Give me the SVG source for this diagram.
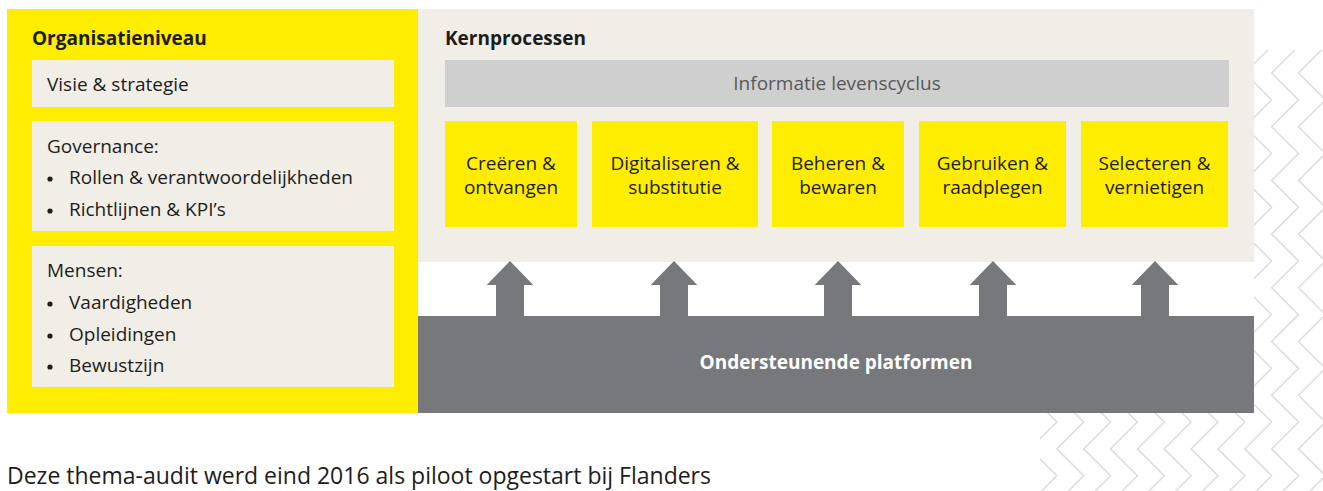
<svg xmlns="http://www.w3.org/2000/svg" xmlns:xlink="http://www.w3.org/1999/xlink" width="1323" height="491" viewBox="0 0 1323 491">
  <style>
    text { font-family: "Open Sans", "Liberation Sans", sans-serif; fill: #1d1d1b; }
    .title { font-size: 19px; font-weight: 700; }
    .body { font-size: 19px; }
    .mid { text-anchor: middle; }
    .yellow { fill: #ffed00; }
    .beige { fill: #f1eee7; }
    .bar { fill: #cfcfcf; }
    .dark { fill: #77787b; }
    .zig { fill: none; stroke: #dcdcdc; stroke-width: 1.5; }
    .dot { fill: #1d1d1b; }
  </style>
  <defs>
    <!-- one vertical zigzag, right vertices at x=0, left vertices at x=-26.85 -->
    <path id="zigzag" class="zig" d="M0,-7.55 l-26.85,26.85 l26.85,26.85 l-26.85,26.85 l26.85,26.85 l-26.85,26.85 l26.85,26.85 l-26.85,26.85 l26.85,26.85 l-26.85,26.85 l26.85,26.85 l-26.85,26.85 l26.85,26.85 l-26.85,26.85 l26.85,26.85 l-26.85,26.85 l26.85,26.85 l-26.85,26.85 l26.85,26.85 l-26.85,26.85 l26.85,26.85"/>
    <clipPath id="zigClip">
      <rect x="1040" y="50" width="283" height="441"/>
    </clipPath>
  </defs>

  <rect width="1323" height="491" fill="#ffffff"/>

  <!-- decorative chevron background -->
  <g id="background-pattern" clip-path="url(#zigClip)">
    <use xlink:href="#zigzag" x="1325.35"/>
    <use xlink:href="#zigzag" x="1298.5"/>
    <use xlink:href="#zigzag" x="1271.65"/>
    <use xlink:href="#zigzag" x="1244.8"/>
    <use xlink:href="#zigzag" x="1217.95"/>
    <use xlink:href="#zigzag" x="1191.1"/>
    <use xlink:href="#zigzag" x="1164.25"/>
    <use xlink:href="#zigzag" x="1137.4"/>
    <use xlink:href="#zigzag" x="1110.55"/>
    <use xlink:href="#zigzag" x="1083.7"/>
    <use xlink:href="#zigzag" x="1056.85"/>
    <use xlink:href="#zigzag" x="1030"/>
  </g>

  <!-- white backing of the diagram area -->
  <rect x="7" y="9" width="1247" height="404" fill="#ffffff"/>

  <!-- organisation level -->
  <g id="organisatieniveau">
    <rect class="yellow" x="7" y="9" width="411" height="404"/>
    <text class="title" x="32" y="44.5">Organisatieniveau</text>
  </g>
  <g id="visie">
    <rect class="beige" x="32" y="60" width="362" height="47"/>
    <text class="body" x="47" y="91">Visie &amp; strategie</text>
  </g>
  <g id="governance">
    <rect class="beige" x="32" y="121" width="362" height="110"/>
    <text class="body" x="47" y="153">Governance:</text>
    <circle class="dot" cx="50" cy="179" r="2.6"/>
    <text class="body" x="69" y="184">Rollen &amp; verantwoordelijkheden</text>
    <circle class="dot" cx="50" cy="211" r="2.6"/>
    <text class="body" x="69" y="216">Richtlijnen &amp; KPI’s</text>
  </g>
  <g id="mensen">
    <rect class="beige" x="32" y="246" width="362" height="141"/>
    <text class="body" x="47" y="277">Mensen:</text>
    <circle class="dot" cx="50" cy="304" r="2.6"/>
    <text class="body" x="69" y="309">Vaardigheden</text>
    <circle class="dot" cx="50" cy="336" r="2.6"/>
    <text class="body" x="69" y="341">Opleidingen</text>
    <circle class="dot" cx="50" cy="367" r="2.6"/>
    <text class="body" x="69" y="372">Bewustzijn</text>
  </g>

  <!-- core processes -->
  <g id="kernprocessen">
    <rect class="beige" x="418" y="9" width="836" height="253"/>
    <text class="title" x="445" y="44.5">Kernprocessen</text>
  </g>
  <g id="levenscyclus">
    <rect class="bar" x="445" y="60" width="784" height="47"/>
    <text class="body mid" x="837" y="90" style="fill:#58585a">Informatie levenscyclus</text>
  </g>
  <g id="creeren">
    <rect class="yellow" x="445" y="121" width="132" height="106"/>
    <text class="body mid" x="511" y="170">Creëren &amp;</text>
    <text class="body mid" x="511" y="194">ontvangen</text>
  </g>
  <g id="digitaliseren">
    <rect class="yellow" x="592" y="121" width="166" height="106"/>
    <text class="body mid" x="675" y="170">Digitaliseren &amp;</text>
    <text class="body mid" x="675" y="194">substitutie</text>
  </g>
  <g id="beheren">
    <rect class="yellow" x="772" y="121" width="132" height="106"/>
    <text class="body mid" x="838" y="170">Beheren &amp;</text>
    <text class="body mid" x="838" y="194">bewaren</text>
  </g>
  <g id="gebruiken">
    <rect class="yellow" x="919" y="121" width="147" height="106"/>
    <text class="body mid" x="992.5" y="170">Gebruiken &amp;</text>
    <text class="body mid" x="992.5" y="194">raadplegen</text>
  </g>
  <g id="selecteren">
    <rect class="yellow" x="1081" y="121" width="147" height="106"/>
    <text class="body mid" x="1154.5" y="170">Selecteren &amp;</text>
    <text class="body mid" x="1154.5" y="194">vernietigen</text>
  </g>

  <!-- supporting platforms -->
  <g id="platformen">
    <rect class="dark" x="418" y="316" width="836" height="97"/>
    <text class="title mid" x="836" y="369" style="fill:#ffffff">Ondersteunende platformen</text>
  </g>

  <!-- upward arrows from platforms to processes -->
  <g id="connectors" class="dark">
    <path d="M510,261 L533.3,285 L524,285 L524,317 L496,317 L496,285 L486.7,285 Z"/>
    <path d="M674,261 L697.3,285 L688,285 L688,317 L660,317 L660,285 L650.7,285 Z"/>
    <path d="M838,261 L861.3,285 L852,285 L852,317 L824,317 L824,285 L814.7,285 Z"/>
    <path d="M993,261 L1016.3,285 L1007,285 L1007,317 L979,317 L979,285 L969.7,285 Z"/>
    <path d="M1155,261 L1178.3,285 L1169,285 L1169,317 L1141,317 L1141,285 L1131.7,285 Z"/>
  </g>

  <text x="7" y="484" style="font-size:23px">Deze thema-audit werd eind 2016 als piloot opgestart bij Flanders</text>
</svg>
